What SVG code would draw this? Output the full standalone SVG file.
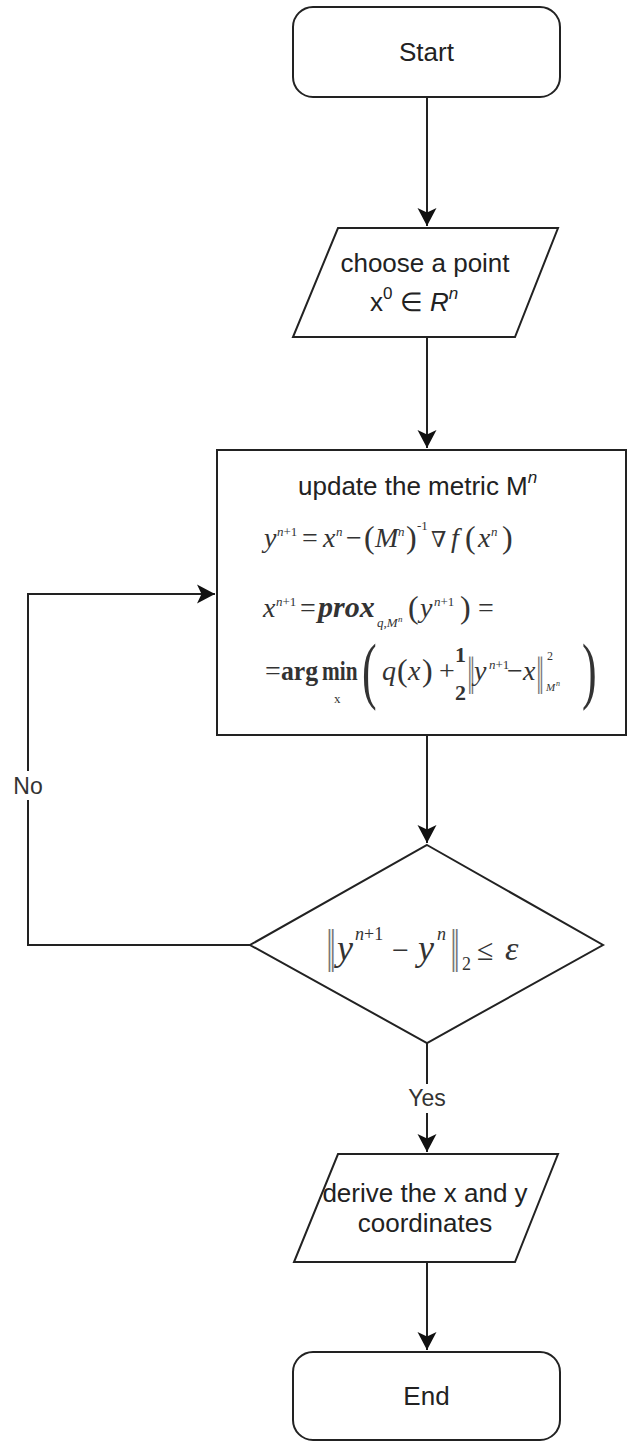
<svg xmlns="http://www.w3.org/2000/svg" width="628" height="1441" viewBox="0 0 628 1441">
<style>
.node{fill:#fff;stroke:#222;stroke-width:2}
.lbl{font-family:"Liberation Sans",Arial,sans-serif;font-size:26px;fill:#222}
.mid{text-anchor:middle}
.math{font-family:"Liberation Serif","DejaVu Serif",serif;font-size:28px;fill:#333;font-style:italic}
.up{font-style:normal}
.s{font-size:13px}
.bar{font-family:"DejaVu Serif",serif;fill:#777;font-style:normal}
.conn{fill:none;stroke:#222;stroke-width:2}
.elbl{font-family:"Liberation Sans",Arial,sans-serif;font-size:23px;fill:#333;text-anchor:middle}
</style>
<defs>
<marker id="arr" markerUnits="userSpaceOnUse" markerWidth="20" markerHeight="20" viewBox="0 0 20 20" refX="19" refY="10" orient="auto">
<path d="M1,0.5 L19,10 L1,19.5 L5.5,10 Z" fill="#111"/>
</marker>
</defs>
<rect width="628" height="1441" fill="#fff"/>

<g id="connectors">
<path class="conn" d="M427,97 L427,226" marker-end="url(#arr)"/>
<path class="conn" d="M427,337 L427,448" marker-end="url(#arr)"/>
<path class="conn" d="M427,735 L427,843" marker-end="url(#arr)"/>
<path class="conn" d="M427,1043 L427,1152" marker-end="url(#arr)"/>
<path class="conn" d="M427,1262 L427,1350" marker-end="url(#arr)"/>
<path class="conn" d="M250,945 L28,945 L28,594 L215,594" marker-end="url(#arr)"/>
<rect x="10" y="771" width="36" height="29" fill="#fff"/>
<text class="elbl" x="28" y="794">No</text>
<rect x="405" y="1084" width="44" height="29" fill="#fff"/>
<text class="elbl" x="427" y="1106">Yes</text>
</g>

<g id="start">
<rect class="node" x="293" y="7" width="267" height="90" rx="20"/>
<text class="lbl mid" x="426.5" y="61">Start</text>
</g>

<g id="choose">
<polygon class="node" points="338,228 558,228 515,337 293,337"/>
<text class="lbl mid" x="425" y="272">choose a point</text>
<text class="lbl" x="370" y="311">x<tspan font-size="17" dy="-12">0</tspan><tspan dy="12"> ∈ </tspan><tspan font-style="italic">R</tspan><tspan font-size="17" font-style="italic" dy="-12">n</tspan></text>
</g>

<g id="update">
<rect class="node" x="217" y="450" width="409" height="285"/>
<text class="lbl" x="298" y="495">update the metric M<tspan font-size="17" font-style="italic" dy="-12">n</tspan></text>
<text class="math">
<tspan x="264" y="547">y</tspan>
<tspan x="277" y="536" class="s">n</tspan><tspan class="s up">+1</tspan>
<tspan x="302" y="547" class="up">=</tspan>
<tspan x="323" y="547">x</tspan>
<tspan x="336" y="536" class="s">n</tspan>
<tspan x="346" y="547" class="up">−</tspan>
<tspan x="364" y="548" font-size="32" class="up">(</tspan>
<tspan x="375" y="547">M</tspan>
<tspan x="398" y="536" class="s">n</tspan>
<tspan x="406" y="548" font-size="32" class="up">)</tspan>
<tspan x="417" y="530" class="s up">-1</tspan>
<tspan x="431" y="547" font-size="22" class="up">∇</tspan>
<tspan x="451" y="547">f</tspan>
<tspan x="465" y="548" font-size="32" class="up">(</tspan>
<tspan x="478" y="547">x</tspan>
<tspan x="491" y="536" class="s">n</tspan>
<tspan x="502" y="548" font-size="32" class="up">)</tspan>
</text>
<text class="math">
<tspan x="263" y="617">x</tspan>
<tspan x="276" y="606" class="s">n</tspan><tspan class="s up">+1</tspan>
<tspan x="300" y="617" class="up">=</tspan>
<tspan x="318" y="617" font-size="30" font-weight="bold">prox</tspan>
<tspan x="377" y="627" class="s">q</tspan><tspan class="s up">,</tspan><tspan class="s">M</tspan>
<tspan x="398" y="622" font-size="9">n</tspan>
<tspan x="408" y="618" font-size="32" class="up">(</tspan>
<tspan x="420" y="617">y</tspan>
<tspan x="434" y="606" class="s">n</tspan><tspan class="s up">+1</tspan>
<tspan x="460" y="618" font-size="32" class="up">)</tspan>
<tspan x="478" y="617" class="up">=</tspan>
</text>
<g class="math">
<text x="265" y="680" class="up">=</text>
<text transform="translate(281,680) scale(0.92,1)" class="up" font-weight="bold">arg</text>
<text transform="translate(322,680) scale(0.76,1)" class="up" font-weight="bold">min</text>
<text x="334" y="703" class="s up">x</text>
<text transform="translate(362,695) scale(1,1.7)" font-size="44" class="up">(</text>
<text x="382" y="680">q</text>
<text x="397" y="681" font-size="32" class="up">(</text>
<text x="408" y="680">x</text>
<text x="422" y="681" font-size="32" class="up">)</text>
<text x="439" y="680" class="up">+</text>
<text x="455" y="662" font-size="22" class="up" font-weight="bold">1</text>
<text x="455" y="700" font-size="22" class="up" font-weight="bold">2</text>
<text class="bar" transform="translate(467,685) scale(0.55,1.25)" font-size="30">‖</text>
<text x="474" y="680">y</text>
<text x="489" y="669" class="s">n<tspan class="up">+1</tspan></text>
<text x="507" y="680" class="up">−</text>
<text x="523" y="680">x</text>
<text class="bar" transform="translate(536,685) scale(0.55,1.25)" font-size="30">‖</text>
<text x="547" y="660" font-size="12" class="up">2</text>
<text x="546" y="691" font-size="11">M</text>
<text x="556" y="686" font-size="8">n</text>
<text transform="translate(582,695) scale(1,1.7)" font-size="44" class="up">)</text>
</g>
</g>

<g id="decision">
<polygon class="node" points="427,845 603,945 427,1043 250,945"/>
<g class="math">
<text class="bar" transform="translate(326,962) scale(0.6,1.25)" font-size="34">‖</text>
<text x="337" y="960" font-size="36">y</text>
<text x="355" y="940" font-size="18">n<tspan class="up">+1</tspan></text>
<text x="392" y="960" font-size="30" class="up">−</text>
<text x="418" y="960" font-size="36">y</text>
<text x="437" y="940" font-size="18">n</text>
<text class="bar" transform="translate(450,962) scale(0.6,1.25)" font-size="34">‖</text>
<text x="462" y="970" font-size="18" class="up">2</text>
<text x="477" y="960" font-size="30" class="up">≤</text>
<text x="505" y="960" font-size="34">ε</text>
</g>
</g>

<g id="derive">
<polygon class="node" points="338,1154 558,1154 515,1262 294,1262"/>
<text class="lbl mid" x="425" y="1202">derive the x and y</text>
<text class="lbl mid" x="425" y="1232">coordinates</text>
</g>

<g id="end">
<rect class="node" x="293" y="1352" width="267" height="88" rx="20"/>
<text class="lbl mid" x="426.5" y="1405">End</text>
</g>
</svg>
